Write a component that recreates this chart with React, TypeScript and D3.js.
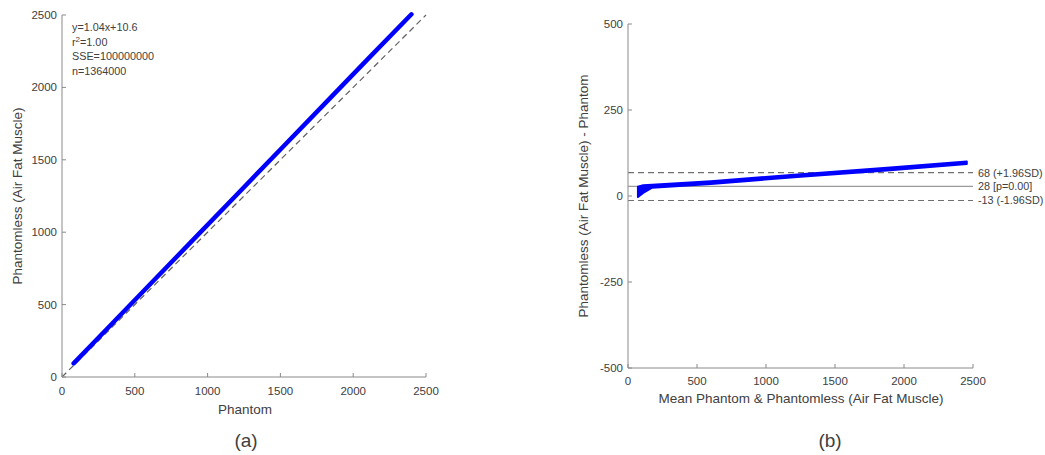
import React from "react";
import * as d3 from "d3";

// ---- Data ----
const axisTicksA = [0, 500, 1000, 1500, 2000, 2500];
const phantom = [80, 300, 600, 900, 1200, 1500, 1800, 2100, 2400];
const phantomless = [94, 323, 635, 947, 1259, 1571, 1883, 2195, 2505];
const fitLines = ["y=1.04x+10.6", "r2=1.00", "SSE=100000000", "n=1364000"];

const baXTicks = [0, 500, 1000, 1500, 2000, 2500];
const baYTicks = [500, 250, 0, -250, -500];
const baMean = [72, 110, 175, 600, 1250, 1900, 2455];
const baDiffUpper = [27, 31, 33, 43, 63, 83, 100];
const baDiffLower = [-3, 9, 24, 35, 56, 75, 93];
const baMeanDiff = 28;
const baUpperLoA = 68;
const baLowerLoA = -13;
const baLabels = ["68 (+1.96SD)", "28 [p=0.00]", "-13 (-1.96SD)"];

const FONT = "Liberation Sans, Arial, Helvetica, sans-serif";
const AXIS = "#8a8a8a";
const TEXT = "#404040";
const BLUE = "#0000ff";

export default function App() {
  // Panel A scales
  const xA = d3.scaleLinear().domain([0, 2500]).range([62, 426]);
  const yA = d3.scaleLinear().domain([0, 2500]).range([377, 15]);
  // Panel B scales
  const xB = d3.scaleLinear().domain([0, 2500]).range([628, 973]);
  const yB = d3.scaleLinear().domain([-500, 500]).range([368, 24]);

  const lineA = d3
    .line<number>()
    .x((_, i) => xA(phantom[i]))
    .y((_, i) => yA(phantomless[i]));

  const areaB = d3
    .area<number>()
    .x((_, i) => xB(baMean[i]))
    .y0((_, i) => yB(baDiffLower[i]))
    .y1((_, i) => yB(baDiffUpper[i]));

  const tickLen = 4;

  return (
    <svg
      width={1045}
      height={455}
      style={{ position: "absolute", left: 0, top: 0, background: "#fff" }}
      fontFamily={FONT}
    >
      <rect width={1045} height={455} fill="#fff" />
      {/* ---------- Panel A ---------- */}
      <line
        x1={xA(0)}
        y1={yA(0)}
        x2={xA(2500)}
        y2={yA(2500)}
        stroke="#606060"
        strokeWidth={1.2}
        strokeDasharray="6,4"
      />
      <path
        d={lineA(phantom) || ""}
        fill="none"
        stroke={BLUE}
        strokeWidth={4.5}
        strokeLinecap="round"
      />
      {/* axes */}
      <line x1={xA(0)} y1={yA(0)} x2={xA(2500)} y2={yA(0)} stroke={AXIS} />
      <line x1={xA(0)} y1={yA(0)} x2={xA(0)} y2={yA(2500)} stroke={AXIS} />
      {axisTicksA.map((t) => (
        <g key={"ax" + t}>
          <line x1={xA(t)} x2={xA(t)} y1={yA(0)} y2={yA(0) - tickLen} stroke={AXIS} />
          <text x={xA(t)} y={yA(0) + 18} textAnchor="middle" fontSize={11.5} fill={TEXT}>
            {t}
          </text>
          <line x1={xA(0)} x2={xA(0) + tickLen} y1={yA(t)} y2={yA(t)} stroke={AXIS} />
          <text x={xA(0) - 5} y={yA(t) + 4} textAnchor="end" fontSize={11.5} fill={TEXT}>
            {t}
          </text>
        </g>
      ))}
      <text x={245} y={414} textAnchor="middle" fontSize={13.5} fill={TEXT}>
        Phantom
      </text>
      <text
        transform={`translate(22,196) rotate(-90)`}
        textAnchor="middle"
        fontSize={13.5}
        fill={TEXT}
      >
        Phantomless (Air Fat Muscle)
      </text>
      <g fontSize={10.8} fill={TEXT}>
        <text x={72} y={31}>{fitLines[0]}</text>
        <text x={72} y={46}>
          r<tspan dy={-4} fontSize={8}>2</tspan>
          <tspan dy={4}>=1.00</tspan>
        </text>
        <text x={72} y={60}>{fitLines[2]}</text>
        <text x={72} y={75}>{fitLines[3]}</text>
      </g>
      <text x={246} y={447} textAnchor="middle" fontSize={19} fill={TEXT}>
        (a)
      </text>

      {/* ---------- Panel B ---------- */}
      <line
        x1={xB(0)}
        x2={xB(2500)}
        y1={yB(baUpperLoA)}
        y2={yB(baUpperLoA)}
        stroke="#707070"
        strokeWidth={1.1}
        strokeDasharray="6,4"
      />
      <line
        x1={xB(0)}
        x2={xB(2500)}
        y1={yB(baLowerLoA)}
        y2={yB(baLowerLoA)}
        stroke="#707070"
        strokeWidth={1.1}
        strokeDasharray="6,4"
      />
      <line
        x1={xB(0)}
        x2={xB(2500)}
        y1={yB(baMeanDiff)}
        y2={yB(baMeanDiff)}
        stroke="#9a9a9a"
        strokeWidth={1.3}
      />
      <path
        d={areaB(baMean) || ""}
        fill={BLUE}
        stroke={BLUE}
        strokeWidth={2}
        strokeLinejoin="round"
      />
      <line x1={xB(0)} y1={yB(-500)} x2={xB(2500)} y2={yB(-500)} stroke={AXIS} />
      <line x1={xB(0)} y1={yB(-500)} x2={xB(0)} y2={yB(500)} stroke={AXIS} />
      {baXTicks.map((t) => (
        <g key={"bx" + t}>
          <line x1={xB(t)} x2={xB(t)} y1={yB(-500)} y2={yB(-500) - tickLen} stroke={AXIS} />
          <text x={xB(t)} y={yB(-500) + 17} textAnchor="middle" fontSize={11.5} fill={TEXT}>
            {t}
          </text>
        </g>
      ))}
      {baYTicks.map((t) => (
        <g key={"by" + t}>
          <line x1={xB(0)} x2={xB(0) + tickLen} y1={yB(t)} y2={yB(t)} stroke={AXIS} />
          <text x={xB(0) - 5} y={yB(t) + 4} textAnchor="end" fontSize={11.5} fill={TEXT}>
            {t}
          </text>
        </g>
      ))}
      <g fontSize={10.8} fill={TEXT}>
        <text x={978} y={yB(baUpperLoA) + 4}>{baLabels[0]}</text>
        <text x={978} y={yB(baMeanDiff) + 4}>{baLabels[1]}</text>
        <text x={978} y={yB(baLowerLoA) + 4}>{baLabels[2]}</text>
      </g>
      <text x={801} y={403} textAnchor="middle" fontSize={13.5} fill={TEXT}>
        Mean Phantom &amp; Phantomless (Air Fat Muscle)
      </text>
      <text
        transform={`translate(588,196) rotate(-90)`}
        textAnchor="middle"
        fontSize={13.5}
        fill={TEXT}
      >
        Phantomless (Air Fat Muscle) - Phantom
      </text>
      <text x={830} y={447} textAnchor="middle" fontSize={19} fill={TEXT}>
        (b)
      </text>
    </svg>
  );
}
